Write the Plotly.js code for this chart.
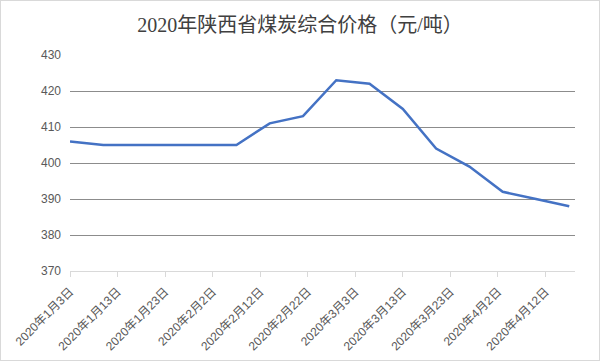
<!DOCTYPE html>
<html>
<head>
<meta charset="utf-8">
<script src="https://cdn.plot.ly/plotly-3.0.1.min.js"></script>
<style>
html,body{margin:0;padding:0;background:#fff;}
#wrap{position:relative;width:600px;height:361px;}
#chart{position:absolute;left:0;top:0;width:600px;height:361px;}
#frame{position:absolute;left:0;top:0;width:598px;height:359px;border:1px solid #d9d9d9;pointer-events:none;}
</style>
</head>
<body>
<div id="wrap"><div id="chart"></div><div id="frame"></div></div>
<script>
const dates = ['2020-01-03','2020-01-10','2020-01-17','2020-01-24','2020-01-31','2020-02-07','2020-02-14','2020-02-21','2020-02-28','2020-03-06','2020-03-13','2020-03-20','2020-03-27','2020-04-03','2020-04-10','2020-04-17'];
const prices = [406,405,405,405,405,405,411,413,423,422,415,404,399,392,390,388];
const tickDates = ['2020-01-03','2020-01-13','2020-01-23','2020-02-02','2020-02-12','2020-02-22','2020-03-03','2020-03-13','2020-03-23','2020-04-02','2020-04-12'];
const tickLabels = ['2020年1月3日','2020年1月13日','2020年1月23日','2020年2月2日','2020年2月12日','2020年2月22日','2020年3月3日','2020年3月13日','2020年3月23日','2020年4月2日','2020年4月12日'];
const yTicks = [370,380,390,400,410,420,430];
const titleText = '2020年陕西省煤炭综合价格（元/吨）';

const trace = {
  x: dates, y: prices, type: 'scatter', mode: 'lines',
  line: {color: '#4472c4', width: 2.5},
  hoverinfo: 'skip'
};
const layout = {
  width: 600, height: 361,
  margin: {l: 69.5, r: 25, t: 55, b: 90},
  paper_bgcolor: '#ffffff', plot_bgcolor: '#ffffff',
  showlegend: false,
  title: {
    text: titleText, x: 0.5, xanchor: 'center', y: 0.932, yanchor: 'middle',
    font: {family: '"Liberation Serif", "Noto Sans CJK SC", serif', size: 20, color: '#404040'}
  },
  xaxis: {
    type: 'date',
    range: ['2020-01-03', '2020-04-18 05:00'],
    tickvals: tickDates, ticktext: tickLabels,
    tickangle: -45,
    showgrid: false, zeroline: false,
    showline: true, linecolor: '#d9d9d9', linewidth: 1,
    ticks: 'outside', ticklen: 5, tickcolor: '#d9d9d9', tickwidth: 1,
    ticklabelstandoff: 3,
    tickfont: {family: '"Liberation Sans", "Noto Sans CJK SC", sans-serif', size: 12, color: '#595959'}
  },
  yaxis: {
    range: [370, 430],
    tickvals: yTicks,
    showgrid: true, gridcolor: '#8c8c8c', gridwidth: 1,
    zeroline: false, showline: false, ticks: '',
    ticklabelstandoff: 8,
    tickfont: {family: '"Liberation Sans", sans-serif', size: 12, color: '#595959'}
  }
};
Plotly.newPlot('chart', [trace], layout, {staticPlot: true, displayModeBar: false});
</script>
</body>
</html>
